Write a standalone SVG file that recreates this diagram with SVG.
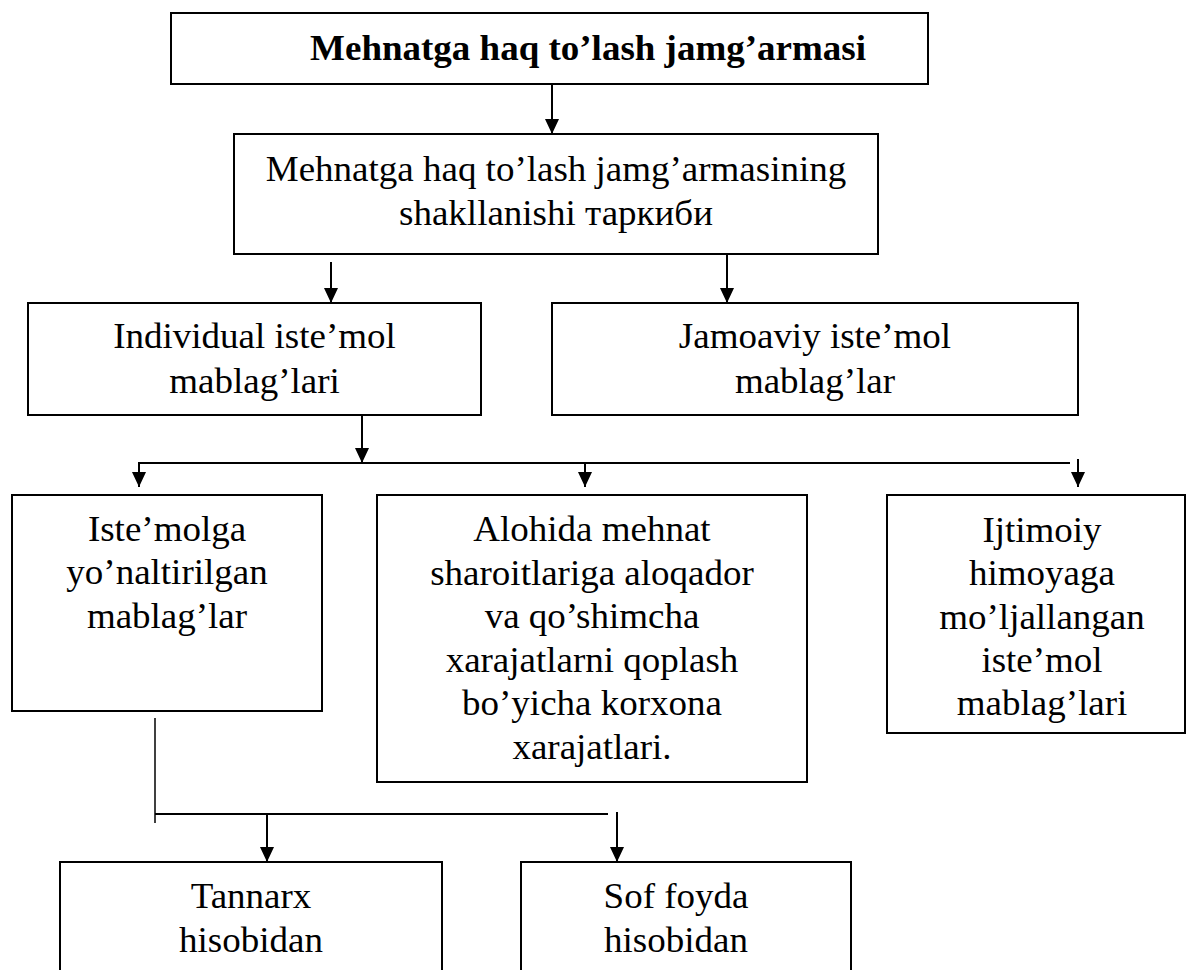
<svg xmlns="http://www.w3.org/2000/svg" width="1186" height="970" viewBox="0 0 1186 970">
<style>
.box{fill:#fff;stroke:#000;stroke-width:2}
.t{font-family:"Liberation Serif","Times New Roman",serif;font-size:37px;fill:#000;text-anchor:middle}
.b{font-weight:bold}
.c{stroke:#000;stroke-width:2;fill:none}
.thin{stroke:#000;stroke-width:1.5;fill:none}
</style>
<defs>
<marker id="ah" markerUnits="userSpaceOnUse" markerWidth="15" markerHeight="14" refX="15" refY="7" orient="auto" viewBox="0 0 15 14">
<path d="M0,0 L15,7 L0,14 z" fill="#000"/>
</marker>
</defs>
<rect width="1186" height="970" fill="#fff"/>
<g id="connectors">
<line class="c" x1="552" y1="84" x2="552" y2="134" marker-end="url(#ah)"/>
<line class="c" x1="331" y1="262" x2="331" y2="303" marker-end="url(#ah)"/>
<line class="c" x1="727" y1="254" x2="727" y2="303" marker-end="url(#ah)"/>
<line class="c" x1="362" y1="415" x2="362" y2="463" marker-end="url(#ah)"/>
<line class="c" x1="139" y1="463" x2="1070" y2="463"/>
<line class="c" x1="139" y1="462" x2="139" y2="487" marker-end="url(#ah)"/>
<line class="c" x1="585" y1="463" x2="585" y2="487" marker-end="url(#ah)"/>
<line class="c" x1="1078" y1="459" x2="1078" y2="487" marker-end="url(#ah)"/>
<line class="thin" x1="155" y1="718" x2="155" y2="823"/>
<line class="c" x1="155" y1="814" x2="608" y2="814"/>
<line class="c" x1="267" y1="814" x2="267" y2="862" marker-end="url(#ah)"/>
<line class="c" x1="617" y1="812" x2="617" y2="862" marker-end="url(#ah)"/>
</g>
<g id="n-top">
<rect class="box" x="171" y="13" width="757" height="71"/>
<text class="t b" transform="translate(588,60) scale(1,0.95)">Mehnatga haq to’lash jamg’armasi</text>
</g>
<g id="n-shakl">
<rect class="box" x="234" y="134" width="644" height="120"/>
<text class="t" transform="translate(556,181) scale(1,0.95)"><tspan x="0" y="0">Mehnatga haq to’lash jamg’armasining</tspan><tspan x="0" y="46.3">shakllanishi таркиби</tspan></text>
</g>
<g id="n-individual">
<rect class="box" x="28" y="303" width="453" height="112"/>
<text class="t" transform="translate(254.5,348) scale(1,0.95)"><tspan x="0" y="0">Individual iste’mol</tspan><tspan x="0" y="47.4">mablag’lari</tspan></text>
</g>
<g id="n-jamoaviy">
<rect class="box" x="552" y="303" width="526" height="112"/>
<text class="t" transform="translate(815,348) scale(1,0.95)"><tspan x="0" y="0">Jamoaviy iste’mol</tspan><tspan x="0" y="47.4">mablag’lar</tspan></text>
</g>
<g id="n-istemolga">
<rect class="box" x="12" y="495" width="310" height="216"/>
<text class="t" transform="translate(167,541) scale(1,0.95)"><tspan x="0" y="0">Iste’molga</tspan><tspan x="0" y="45.8">yo’naltirilgan</tspan><tspan x="0" y="91.6">mablag’lar</tspan></text>
</g>
<g id="n-alohida">
<rect class="box" x="377" y="495" width="430" height="287"/>
<text class="t" transform="translate(592,541) scale(1,0.95)"><tspan x="0" y="0">Alohida mehnat</tspan><tspan x="0" y="45.9">sharoitlariga aloqador</tspan><tspan x="0" y="91.8">va qo’shimcha</tspan><tspan x="0" y="137.7">xarajatlarni qoplash</tspan><tspan x="0" y="183.6">bo’yicha korxona</tspan><tspan x="0" y="229.5">xarajatlari.</tspan></text>
</g>
<g id="n-ijtimoiy">
<rect class="box" x="887" y="495" width="298" height="238"/>
<text class="t" transform="translate(1042,542) scale(1,0.95)"><tspan x="0" y="0">Ijtimoiy</tspan><tspan x="0" y="45.6">himoyaga</tspan><tspan x="0" y="91.2">mo’ljallangan</tspan><tspan x="0" y="136.8">iste’mol</tspan><tspan x="0" y="182.4">mablag’lari</tspan></text>
</g>
<g id="n-tannarx">
<rect class="box" x="60" y="862" width="382" height="140"/>
<text class="t" transform="translate(251,908) scale(1,0.95)"><tspan x="0" y="0">Tannarx</tspan><tspan x="0" y="46.3">hisobidan</tspan></text>
</g>
<g id="n-soffoyda">
<rect class="box" x="521" y="862" width="330" height="140"/>
<text class="t" transform="translate(676,908) scale(1,0.95)"><tspan x="0" y="0">Sof foyda</tspan><tspan x="0" y="46.3">hisobidan</tspan></text>
</g>
</svg>
